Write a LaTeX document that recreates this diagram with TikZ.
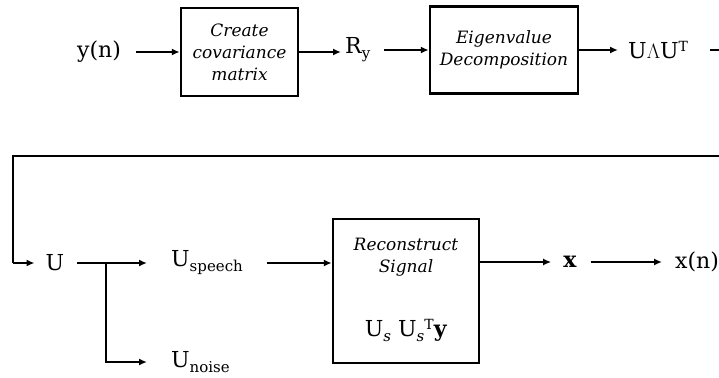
\documentclass[tikz,border=0pt]{standalone}
\usepackage{fontspec}
\setmainfont{DejaVu Serif}
\usetikzlibrary{arrows.meta}
\newcommand{\lbl}{\fontsize{22}{24}\selectfont}
\newcommand{\bxt}{\fontsize{17}{22}\selectfont\itshape}
\newcommand{\subt}[1]{\raisebox{-5pt}{\fontsize{15}{15}\selectfont #1}}
\newcommand{\supt}[1]{\raisebox{7pt}{\fontsize{14}{14}\selectfont #1}}
\tikzset{
  arr/.style={line width=2.5pt,-{Latex[length=8pt,width=7pt]}},
  ln/.style={line width=2.5pt},
  blk/.style={draw,line width=2.5pt,minimum width=#1,inner sep=0pt,align=center},
  lab/.style={inner sep=0pt,font=\lbl}
}
\begin{document}
\begin{tikzpicture}[x=1pt,y=-1pt]
\clip (0,0) rectangle (719,377);
% top row
\node[lab] (yn) at (99,52) {y(n)};
\node[blk=117pt,minimum height=88pt,font=\bxt] (b1) at (239.5,52) {Create\\covariance\\matrix};
\node[lab,anchor=west] (ry) at (345,50) {R\subt{y}};
\node[blk=148pt,minimum height=87pt,font=\bxt] (b2) at (504,50) {Eigenvalue\\Decomposition};
\node[lab,anchor=west] (uau) at (628,50) {U$\Lambda$U\supt{T}};
% bottom row
\node[lab] (u) at (55,263) {U};
\node[lab,anchor=west] (usp) at (171,263) {U\subt{speech}};
\node[lab,anchor=west] (uno) at (171,362) {U\subt{noise}};
\node[blk=146pt,minimum height=144pt] (b3) at (406,291) {};
\node[font=\bxt,align=center,inner sep=0pt] (b3t) at (406,257.5) {Reconstruct\\Signal};
\node[lab] (b3f) at (406,330) {U\subt{\itshape s} U\subt{\itshape s}\supt{T}\textbf{y}};
\node[lab] (xb) at (570,262) {\textbf{x}};
\node[lab,anchor=west] (xn) at (675,262) {x(n)};
\coordinate (br) at (106,263);
% connectors
\draw[arr] ([xshift=15pt]yn.east) -- (b1.west);
\draw[arr] (b1.east) -- ([xshift=-4pt]ry.west|-b1.east);
\draw[arr] ([xshift=14pt]ry.east|-b2.west) -- (b2.west);
\draw[arr] (b2.east) -- ([xshift=-10pt]uau.west|-b2.east);
\draw[ln] ([xshift=22pt]uau.east|-b2.east) -- (730,50) -- (730,156) -- (13,156) -- (13,263);
\draw[arr] (13,263) -- ([xshift=-11pt]u.west);
\draw[arr] ([xshift=13pt]u.east) -- ([xshift=-24pt]usp.west);
\draw[arr] (br) |- ([xshift=-24pt]uno.west);
\draw[arr] ([xshift=24pt]usp.east) -- (b3.west|-usp.east);
\draw[arr] (b3.east|-xb.west) -- ([xshift=-12pt]xb.west);
\draw[arr] ([xshift=14pt]xb.east) -- ([xshift=-13pt]xn.west);
\end{tikzpicture}
\end{document}
